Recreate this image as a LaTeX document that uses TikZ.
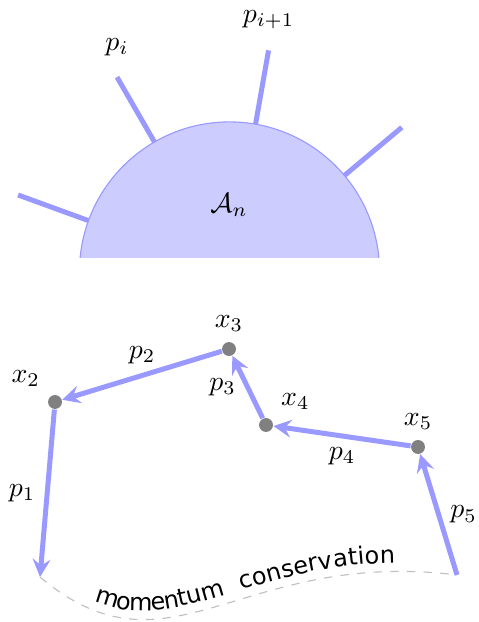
\documentclass[tikz,border=0pt]{standalone}
\usepackage{fontspec}
\newfontfamily\labelsans{DejaVu Sans}
\usetikzlibrary{calc,arrows,decorations.text}
\tikzset{
  leg/.style={draw=blue!40,line width=1.8pt},
  mom/.style={draw=blue!40,line width=1.8pt,->},
  vertex/.style={circle,fill=gray,inner sep=0pt,minimum size=5pt}
}
\begin{document}
\begin{tikzpicture}[x=1cm,y=1cm,>=stealth]
    \useasboundingbox (0,0) rectangle (6.047,7.868);

    % 振幅
    \coordinate (c) at (2.903,4.428);
    \begin{scope}
        \clip (0.5,4.605) rectangle (5.5,7.0);
        \filldraw[fill=blue!20,draw=blue!40,line width=0.4pt] (c) circle (1.898);
    \end{scope}
    \node (amp) at (2.897,5.275) {$\mathcal{A}_n$};

    % 外線
    \foreach \a in {40,80,120,160}
        \draw[leg] ($(c)+(\a:1.898)$) -- ($(c)+(\a:2.846)$);
    \node (pi) at ($(c)+(120:2.846)+(0,0.38)$) {$p_i$};
    \node (pj) at ($(c)+(80:2.846)+(0,0.39)$) {$p_{i+1}$};

    % 頂点 x
    \node[vertex,label=above left:$x_2$] (x2) at (0.696,2.783) {};
    \node[vertex,label=above:$x_3$] (x3) at (2.897,3.453) {};
    \node[vertex,label=above right:$x_4$] (x4) at (3.365,2.492) {};
    \node[vertex,label=above:$x_5$] (x5) at (5.288,2.214) {};
    \coordinate (e1) at (0.506,0.569);
    \coordinate (e5) at (5.781,0.595);

    % 運動量
    \draw[mom] (x2) -- node[left] {$p_1$} (e1);
    \draw[mom] (x3) -- node[above] {$p_2$} (x2);
    \draw[mom] (x4) -- node[left] {$p_3$} (x3);
    \draw[mom] (x5) -- node[below] {$p_4$} (x4);
    \draw[mom] (e5) -- node[right] {$p_5$} (x5);

    % 運動量保存
    \draw[gray!50,dashed,line width=0.4pt]
        (e1) .. controls (2.151,-0.81) and (3.023,0.936) .. (e5);
    \path[decorate,decoration={text along path,text align=center,raise=1.1mm,
        text={|\labelsans\fontsize{8.6}{10}\selectfont|momentum{\hspace{6pt}}conservation}}]
        (e1) .. controls (2.151,-0.81) and (3.023,0.936) .. (e5);
\end{tikzpicture}
\end{document}
